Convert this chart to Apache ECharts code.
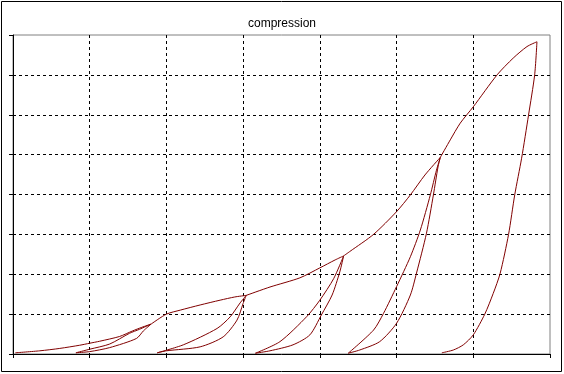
<!DOCTYPE html>
<html><head><meta charset="utf-8">
<script src="https://cdn.jsdelivr.net/npm/echarts@6/dist/echarts.min.js"></script>
<style>html,body{margin:0;padding:0;background:#fff}#c{width:564px;height:374px}</style>
</head><body><div id="c"></div>
<script>
// Axis ranges (no tick labels in the reference)
var xTicks = [0,1,2,3,4,5,6,7];
var yTicks = [0,1,2,3,4,5,6,7,8];
// Branches of the compression curve: [strain, stress]
var envelope1 = [[0.03,0.03],[0.35,0.08],[0.61,0.14],[0.87,0.22],[1.00,0.27],[1.13,0.32],[1.39,0.44],[1.56,0.58],[1.68,0.67],[1.80,0.75]];
var unload1   = [[1.80,0.75],[1.70,0.58],[1.61,0.39],[1.26,0.16],[1.00,0.06],[0.82,0.03]];
var reload1   = [[0.82,0.03],[1.00,0.12],[1.26,0.25],[1.52,0.52],[1.65,0.62],[1.80,0.75]];
var envelope2 = [[1.80,0.75],[2.00,1.00],[2.18,1.10],[2.44,1.23],[2.70,1.35],[2.89,1.43],[3.04,1.47]];
var unload2   = [[3.04,1.47],[3.00,1.27],[2.92,0.85],[2.74,0.43],[2.44,0.18],[2.00,0.08],[1.88,0.03]];
var reload2   = [[1.88,0.03],[2.22,0.23],[2.66,0.64],[2.83,0.93],[2.96,1.28],[3.04,1.47]];
var envelope3 = [[3.04,1.47],[3.35,1.68],[3.74,1.91],[4.00,2.16],[4.20,2.36],[4.31,2.46]];
var unload3   = [[4.31,2.46],[4.26,2.06],[4.16,1.48],[4.02,0.98],[3.87,0.48],[3.65,0.23],[3.35,0.08],[3.16,0.02]];
var reload3   = [[3.16,0.02],[3.48,0.31],[3.83,0.94],[4.00,1.35],[4.18,1.89],[4.31,2.46]];
var envelope4 = [[4.31,2.46],[4.39,2.57],[4.70,3.00],[5.00,3.57],[5.18,3.99],[5.37,4.49],[5.57,4.93]];
var unload4   = [[5.57,4.93],[5.54,4.69],[5.48,3.99],[5.39,3.03],[5.26,2.03],[5.18,1.48],[5.00,0.77],[4.78,0.31],[4.52,0.10],[4.37,0.02]];
var reload4   = [[4.37,0.02],[4.70,0.60],[4.83,1.02],[5.00,1.69],[5.18,2.44],[5.31,3.11],[5.44,3.99],[5.52,4.61],[5.57,4.93]];
var envelope5 = [[5.57,4.93],[5.70,5.37],[5.83,5.79],[6.00,6.20],[6.31,7.00],[6.52,7.42],[6.70,7.71],[6.83,7.83]];
var unload5   = [[6.83,7.83],[6.80,7.00],[6.72,5.99],[6.63,4.91],[6.54,3.99],[6.46,3.00],[6.35,2.02],[6.26,1.52],[6.15,1.00],[6.00,0.48],[5.87,0.23],[5.74,0.10],[5.59,0.03]];

var branches = [envelope1,unload1,reload1,envelope2,unload2,reload2,envelope3,unload3,reload3,envelope4,unload4,reload4,envelope5,unload5];

var chart = echarts.init(document.getElementById('c'), null, {renderer:'canvas'});
var axisCommon = {
  type:'value', axisLabel:{show:false},
  axisLine:{show:true, lineStyle:{color:'#000', width:1}},
  axisTick:{show:true, inside:false, length:4, lineStyle:{color:'#000'}},
  splitLine:{show:true, showMinLine:false, showMaxLine:false, lineStyle:{color:'#000', type:[3,3], width:1}}
};
chart.setOption({
  animation:false,
  backgroundColor:'#fff',
  title:{text:'compression', left:'center', top:13, textStyle:{fontSize:12, fontWeight:'normal', color:'#000', fontFamily:'Liberation Sans, Arial, sans-serif'}},
  grid:{left:13, top:35, right:14, bottom:20, show:true, borderColor:'#808080', borderWidth:1, backgroundColor:'#fff'},
  xAxis: Object.assign({}, axisCommon, {min:xTicks[0], max:xTicks[xTicks.length-1], interval:1}),
  yAxis: Object.assign({}, axisCommon, {min:yTicks[0], max:yTicks[yTicks.length-1], interval:1}),
  graphic:[{type:'rect', shape:{x:1.5, y:1.5, width:560, height:370}, style:{fill:null, stroke:'#000', lineWidth:1}, silent:true, z:-1}],
  series: branches.map(function(b){
    return {type:'line', data:b, showSymbol:false, smooth:0.25, lineStyle:{color:'#800000', width:1}, z:5};
  })
});
</script></body></html>
